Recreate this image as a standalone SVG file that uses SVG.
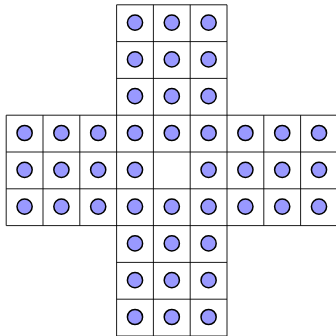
<svg xmlns="http://www.w3.org/2000/svg" width="336" height="336" viewBox="0 0 336 336">
<style>
.grid{fill:none;stroke:#000;stroke-width:0.9}
.peg{fill:#9999ff;stroke:#000;stroke-width:1.5}
</style>
<rect width="336" height="336" fill="#fff"/>
<g id="connectors" class="grid">
<path d="M116.6,4.8H227M116.6,41.6H227M116.6,78.4H227M6.2,115.2H337.4M6.2,152H337.4M6.2,188.8H337.4M6.2,225.6H337.4M116.6,262.4H227M116.6,299.2H227M116.6,336H227"/>
<path d="M6.2,115.2V225.6M43,115.2V225.6M79.8,115.2V225.6M263.8,115.2V225.6M300.6,115.2V225.6M337.4,115.2V225.6M116.6,4.8V336M153.4,4.8V336M190.2,4.8V336M227,4.8V336"/>
</g>
<g id="pegs" transform="translate(0,-0.6)">
<g id="top">
<circle class="peg" cx="135" cy="23.2" r="7.6"/><circle class="peg" cx="171.8" cy="23.2" r="7.6"/><circle class="peg" cx="208.6" cy="23.2" r="7.6"/>
<circle class="peg" cx="135" cy="60" r="7.6"/><circle class="peg" cx="171.8" cy="60" r="7.6"/><circle class="peg" cx="208.6" cy="60" r="7.6"/>
<circle class="peg" cx="135" cy="96.8" r="7.6"/><circle class="peg" cx="171.8" cy="96.8" r="7.6"/><circle class="peg" cx="208.6" cy="96.8" r="7.6"/>
</g>
<g id="row1">
<circle class="peg" cx="24.6" cy="133.6" r="7.6"/><circle class="peg" cx="61.4" cy="133.6" r="7.6"/><circle class="peg" cx="98.2" cy="133.6" r="7.6"/><circle class="peg" cx="135" cy="133.6" r="7.6"/><circle class="peg" cx="171.8" cy="133.6" r="7.6"/><circle class="peg" cx="208.6" cy="133.6" r="7.6"/><circle class="peg" cx="245.4" cy="133.6" r="7.6"/><circle class="peg" cx="282.2" cy="133.6" r="7.6"/><circle class="peg" cx="319" cy="133.6" r="7.6"/>
</g>
<g id="row2">
<circle class="peg" cx="24.6" cy="170.4" r="7.6"/><circle class="peg" cx="61.4" cy="170.4" r="7.6"/><circle class="peg" cx="98.2" cy="170.4" r="7.6"/><circle class="peg" cx="135" cy="170.4" r="7.6"/><circle class="peg" cx="208.6" cy="170.4" r="7.6"/><circle class="peg" cx="245.4" cy="170.4" r="7.6"/><circle class="peg" cx="282.2" cy="170.4" r="7.6"/><circle class="peg" cx="319" cy="170.4" r="7.6"/>
</g>
<g id="row3">
<circle class="peg" cx="24.6" cy="207.2" r="7.6"/><circle class="peg" cx="61.4" cy="207.2" r="7.6"/><circle class="peg" cx="98.2" cy="207.2" r="7.6"/><circle class="peg" cx="135" cy="207.2" r="7.6"/><circle class="peg" cx="171.8" cy="207.2" r="7.6"/><circle class="peg" cx="208.6" cy="207.2" r="7.6"/><circle class="peg" cx="245.4" cy="207.2" r="7.6"/><circle class="peg" cx="282.2" cy="207.2" r="7.6"/><circle class="peg" cx="319" cy="207.2" r="7.6"/>
</g>
<g id="bottom">
<circle class="peg" cx="135" cy="244" r="7.6"/><circle class="peg" cx="171.8" cy="244" r="7.6"/><circle class="peg" cx="208.6" cy="244" r="7.6"/>
<circle class="peg" cx="135" cy="280.8" r="7.6"/><circle class="peg" cx="171.8" cy="280.8" r="7.6"/><circle class="peg" cx="208.6" cy="280.8" r="7.6"/>
<circle class="peg" cx="135" cy="317.6" r="7.6"/><circle class="peg" cx="171.8" cy="317.6" r="7.6"/><circle class="peg" cx="208.6" cy="317.6" r="7.6"/>
</g>
</g>
</svg>
